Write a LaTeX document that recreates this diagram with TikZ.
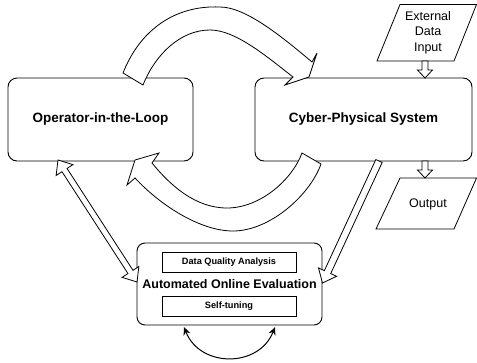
\documentclass[tikz,border=0pt]{standalone}
\usepackage{fontspec}
\setmainfont{Liberation Sans}
\usetikzlibrary{calc,arrows.meta}
\tikzset{
  bigbox/.style={draw, line width=0.9pt, rounded corners=9pt, inner sep=0pt,
    minimum width=185pt, minimum height=83pt, font=\bfseries\fontsize{13.5}{16}\selectfont},
  evalbox/.style={draw, line width=0.9pt, rounded corners=8pt, inner sep=0pt,
    minimum width=185pt, minimum height=82pt, font=\bfseries\fontsize{12.5}{15}\selectfont},
  subbox/.style={draw, line width=0.8pt, inner sep=0pt, minimum width=134pt,
    minimum height=20pt, font=\bfseries\fontsize{9.2}{11}\selectfont},
  hollow/.style={draw, fill=white, line width=0.8pt, line join=miter},
  io/.style={draw, line width=0.8pt},
  iotext/.style={font=\fontsize{12.5}{15.5}\selectfont, align=center, inner sep=0pt},
  loopline/.style={line width=1pt, {Stealth[length=8pt,width=7pt]}-{Stealth[length=8pt,width=7pt]}},
}
% single hollow arrow: start, tip, shaft half width, head half width, head length
\newcommand\singlearrow[5]{%
  \draw[hollow] ($(#1)!#3!90:(#2)$) -- ($(#2)!#5!(#1)!#3!90:(#2)$)
    -- ($(#2)!#5!(#1)!#4!90:(#2)$) -- (#2) -- ($(#2)!#5!(#1)!#4!-90:(#2)$)
    -- ($(#2)!#5!(#1)!#3!-90:(#2)$) -- ($(#1)!#3!-90:(#2)$) -- cycle;}
% double hollow arrow
\newcommand\doublearrow[5]{%
  \draw[hollow] (#1) -- ($(#1)!#5!(#2)!#4!90:(#2)$) -- ($(#1)!#5!(#2)!#3!90:(#2)$)
    -- ($(#2)!#5!(#1)!#3!90:(#2)$) -- ($(#2)!#5!(#1)!#4!90:(#2)$) -- (#2)
    -- ($(#2)!#5!(#1)!#4!-90:(#2)$) -- ($(#2)!#5!(#1)!#3!-90:(#2)$)
    -- ($(#1)!#5!(#2)!#3!-90:(#2)$) -- ($(#1)!#5!(#2)!#4!-90:(#2)$) -- cycle;}
\begin{document}
\begin{tikzpicture}[x=1pt,y=-1pt]
\useasboundingbox (0,0) rectangle (477,362);

% main boxes
\node[bigbox] (op) at (100.5,119.5) {Operator-in-the-Loop};
\node[bigbox, minimum width=217pt] (cps) at (363.5,119.5) {Cyber-Physical System};
\node[evalbox] (aoe) at (229.5,284) {Automated Online Evaluation};
\node[subbox] (dqa) at (229,262) {Data Quality Analysis};
\node[subbox] (st) at (229,306.5) {Self-tuning};

% input / output parallelograms
\draw[io] (400,4.5) -- (476.5,4.5) -- (454,61) -- (377,61) -- cycle;
\node[iotext] (ext) at (428,32.5) {External\\Data\\Input};
\draw[io] (400,178) -- (476.5,178) -- (454,229) -- (376,229) -- cycle;
\node[iotext] (out) at (428,204) {Output};

% connector end points
\coordinate (extS) at (425,61);
\coordinate (cpsN) at (425,78);
\coordinate (cpsS) at (425,161);
\coordinate (outN) at (425,178);
\coordinate (opS) at (58,160);
\coordinate (aoeW) at (137,282);
\coordinate (cpsSW) at (379,161);
\coordinate (aoeE) at (322.5,283);
\coordinate (aoeSW) at (184,327);
\coordinate (aoeSE) at (275,327);

% big curved arrows
\draw[hollow] (123,73) .. controls (140,30) and (175,5) .. (220,7)
  .. controls (245,7) and (280,35) .. (312,62) -- (317,53) -- (309,77) -- (285,85) -- (293,77)
  .. controls (265,55) and (235,30) .. (210,30)
  .. controls (180,30) and (155,55) .. (143,85) -- cycle;
\draw[hollow] (321,164) .. controls (310,195) and (270,231) .. (233,231)
  .. controls (200,231) and (160,205) .. (135,178) -- (127,185) -- (135,160) -- (159,153) -- (152,163)
  .. controls (170,185) and (195,208) .. (227,208)
  .. controls (260,208) and (292,180) .. (302,153) -- cycle;

% straight hollow arrows
\singlearrow{extS}{cpsN}{3pt}{7.5pt}{8pt}
\singlearrow{cpsS}{outN}{3pt}{7.5pt}{8pt}
\doublearrow{opS}{aoeW}{3pt}{10pt}{12pt}
\singlearrow{cpsSW}{aoeE}{3.5pt}{10pt}{12pt}

% self loop
\draw[loopline] (aoeSW) .. controls (200,368) and (259,368) .. (aoeSE);
\end{tikzpicture}
\end{document}
